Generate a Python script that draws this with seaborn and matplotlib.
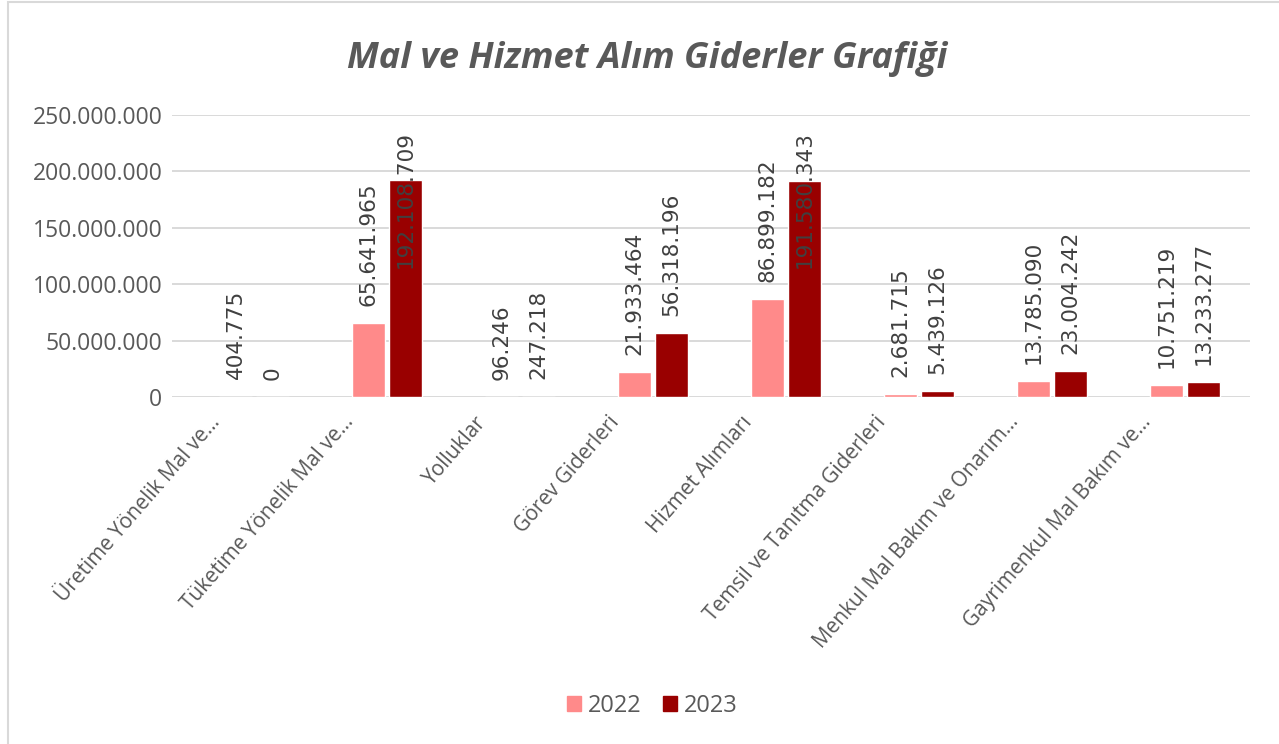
import pandas as pd
import seaborn as sns
import matplotlib.pyplot as plt
from matplotlib.patches import Rectangle
from matplotlib.transforms import ScaledTranslation

categories = ["Üretime Yönelik Mal ve...", "Tüketime Yönelik Mal ve...", "Yolluklar",
              "Görev Giderleri", "Hizmet Alımları", "Temsil ve Tanıtma Giderleri",
              "Menkul Mal Bakım ve Onarım...", "Gayrimenkul Mal Bakım ve..."]
values_2022 = [404775, 65641965, 96246, 21933464, 86899182, 2681715, 13785090, 10751219]
values_2023 = [0, 192108709, 247218, 56318196, 191580343, 5439126, 23004242, 13233277]
years = ["2022", "2023"]
yticks = [0, 50000000, 100000000, 150000000, 200000000, 250000000]
colors = ["#ff8a8a", "#990000"]

df = pd.DataFrame({
    "Kalem": categories * 2,
    "Yıl": [years[0]] * len(categories) + [years[1]] * len(categories),
    "Tutar": values_2022 + values_2023,
})

def tr_fmt(v):
    return f"{v:,.0f}".replace(",", ".")

sns.set_style("white")
plt.rcParams['font.family'] = ['Open Sans', 'DejaVu Sans']
grey = "#595959"

fig = plt.figure(figsize=(12.79, 7.44), dpi=100)
ax = fig.add_axes([0.1345, 0.4664, 0.843, 0.379])
sns.barplot(data=df, x="Kalem", y="Tutar", hue="Yıl", palette=colors, saturation=1,
            width=0.56, gap=0.12, ax=ax, legend=False)

ax.set_ylim(0, 250000000)
ax.set_yticks(yticks)
ax.set_yticklabels([tr_fmt(t) for t in yticks], fontsize=16.5, color=grey)
ax.yaxis.grid(True, color="#d9d9d9", linewidth=1.4)
ax.set_axisbelow(True)
for s in ax.spines.values():
    s.set_visible(False)
ax.tick_params(axis="both", length=0)
ax.tick_params(axis="y", pad=7)
ax.set_xlabel("")
ax.set_ylabel("")
ax.set_xlim(-0.617, len(categories) - 0.51)

ax.set_xticks(range(len(categories)))
ax.set_xticklabels(categories, rotation=49, ha="right", rotation_mode="anchor",
                   fontsize=15, color=grey)
shift = ScaledTranslation(-45 / 100, -10 / 100, fig.dpi_scale_trans)
for lab in ax.get_xticklabels():
    lab.set_transform(lab.get_transform() + shift)

# value labels
for cont in ax.containers:
    for bar in cont:
        h = bar.get_height()
        x = bar.get_x() + bar.get_width() / 2
        if h > 150000000:
            ax.text(x, 236000000, tr_fmt(h), rotation=90, ha="center", va="top",
                    fontsize=15.5, color="#404040", family=["DejaVu Sans"])
        else:
            ax.annotate(tr_fmt(h), (x, h), xytext=(0, 12.5), textcoords="offset points",
                        rotation=90, ha="center", va="bottom",
                        fontsize=15.5, color="#404040", family=["DejaVu Sans"])

fig.text(0.506, 0.921, "Mal ve Hizmet Alım Giderler Grafiği", ha="center", va="center",
         fontsize=26, fontweight="bold", fontstyle="italic", color=grey)

handles = [Rectangle((0, 0), 1, 1, color=c) for c in colors]
fig.legend(handles, years, loc="center", bbox_to_anchor=(0.510, 0.051), ncol=2,
           frameon=False, fontsize=17, handlelength=0.6, handleheight=0.6,
           columnspacing=0.9, handletextpad=0.3, labelcolor=grey)

fig.patches.append(Rectangle((0.006, -0.01), 1.0, 1.007, transform=fig.transFigure,
                             fill=False, edgecolor="#d9d9d9", linewidth=1.5))

plt.savefig("out.png", dpi=100)
